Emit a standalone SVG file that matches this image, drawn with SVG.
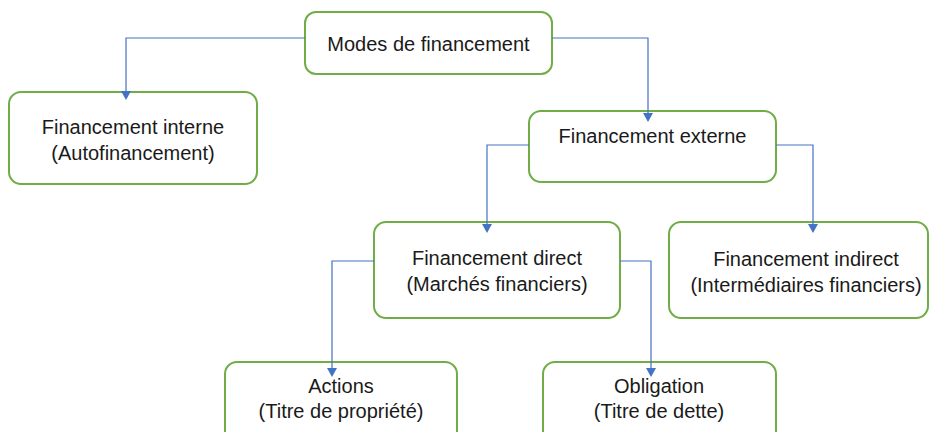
<svg xmlns="http://www.w3.org/2000/svg" width="930" height="432" viewBox="0 0 930 432">
<style>
.box{fill:#fff;stroke:#70ad47;stroke-width:2}
.lbl{font-family:"Liberation Sans",Arial,sans-serif;font-size:20px;fill:#1a1a1a;text-anchor:middle}
.con{fill:none;stroke:#4472c4;stroke-width:1.2}
.ah{fill:#4472c4}
</style>
<rect width="930" height="432" fill="#fff"/>
<g id="modes">
<rect class="box" x="305" y="12" width="247" height="62" rx="11"/>
<text class="lbl" x="428.5" y="51">Modes de financement</text>
</g>
<g id="interne">
<rect class="box" x="9" y="92" width="248" height="92" rx="12"/>
<text class="lbl" x="133" y="134">Financement interne</text>
<text class="lbl" x="133" y="160">(Autofinancement)</text>
</g>
<g id="externe">
<rect class="box" x="529" y="111" width="247" height="71" rx="12"/>
<text class="lbl" x="652.5" y="143">Financement externe</text>
</g>
<g id="direct">
<rect class="box" x="374" y="222" width="246" height="96" rx="12"/>
<text class="lbl" x="497" y="265">Financement direct</text>
<text class="lbl" x="497" y="291">(Marchés financiers)</text>
</g>
<g id="indirect">
<rect class="box" x="669" y="222" width="259" height="96" rx="12"/>
<text class="lbl" x="806" y="266">Financement indirect</text>
<text class="lbl" x="806" y="292">(Intermédiaires financiers)</text>
</g>
<g id="actions">
<rect class="box" x="225" y="362" width="232" height="90" rx="12"/>
<text class="lbl" x="341" y="393">Actions</text>
<text class="lbl" x="341" y="418">(Titre de propriété)</text>
</g>
<g id="obligation">
<rect class="box" x="543" y="362" width="233" height="90" rx="12"/>
<text class="lbl" x="659" y="393">Obligation</text>
<text class="lbl" x="659" y="418">(Titre de dette)</text>
</g>
<g id="connectors">
<polyline class="con" points="305,38 126,38 126,91"/>
<polyline class="con" points="552,38 648,38 648,113"/>
<polyline class="con" points="529,145 487,145 487,224"/>
<polyline class="con" points="776,145 813,145 813,224"/>
<polyline class="con" points="374,261 332,261 332,368"/>
<polyline class="con" points="620,261 651,261 651,368"/>
<path class="ah" d="M121,91 L131,91 L126,100 Z"/>
<path class="ah" d="M643,113 L653,113 L648,122 Z"/>
<path class="ah" d="M482,224 L492,224 L487,233 Z"/>
<path class="ah" d="M808,224 L818,224 L813,233 Z"/>
<path class="ah" d="M327,368 L337,368 L332,377 Z"/>
<path class="ah" d="M646,368 L656,368 L651,377 Z"/>
</g>
</svg>
